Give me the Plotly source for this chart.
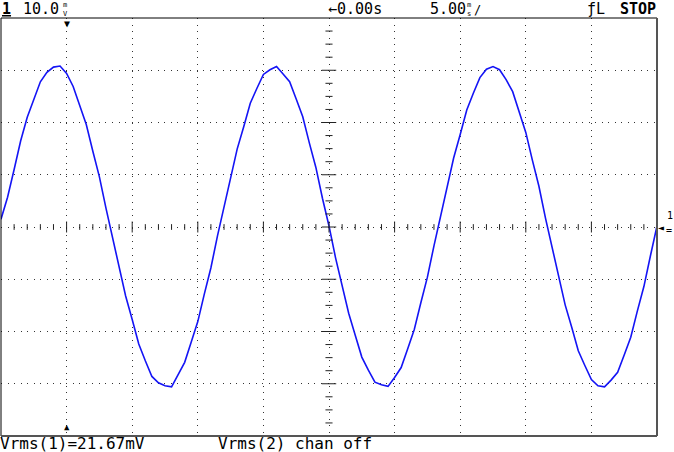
import plotly.graph_objects as go

t_ms = [-25.0, -24.5, -24.0, -23.5, -23.0, -22.5, -22.0, -21.5, -21.0, -20.5,
        -20.0, -19.5, -19.0, -18.5, -18.0, -17.5, -17.0, -16.5, -16.0, -15.5,
        -15.0, -14.5, -14.0, -13.5, -13.0, -12.5, -12.0, -11.5, -11.0, -10.5,
        -10.0, -9.5, -9.0, -8.5, -8.0, -7.5, -7.0, -6.5, -6.0, -5.5,
        -5.0, -4.5, -4.0, -3.5, -3.0, -2.5, -2.0, -1.5, -1.0, -0.5,
        0.0, 0.5, 1.0, 1.5, 2.0, 2.5, 3.0, 3.5, 4.0, 4.5,
        5.0, 5.5, 6.0, 6.5, 7.0, 7.5, 8.0, 8.5, 9.0, 9.5,
        10.0, 10.5, 11.0, 11.5, 12.0, 12.5, 13.0, 13.5, 14.0, 14.5,
        15.0, 15.5, 16.0, 16.5, 17.0, 17.5, 18.0, 18.5, 19.0, 19.5,
        20.0, 20.5, 21.0, 21.5, 22.0, 22.5, 23.0, 23.5, 24.0, 24.5, 25.0]
v_mv = [1.5, 5.7, 11.0, 16.5, 21.0, 24.5, 27.8, 29.6, 30.6, 30.8,
        29.4, 26.9, 23.3, 19.6, 14.5, 9.6, 3.6, -2.1, -7.4, -13.2,
        -17.7, -22.4, -25.6, -28.6, -29.8, -30.4, -30.6, -28.2, -25.9, -22.0,
        -18.1, -12.8, -7.8, -1.7, 3.9, 9.2, 14.9, 19.2, 23.7, 26.5,
        29.2, 30.1, 30.7, 29.3, 27.8, 24.5, 21.1, 16.1, 11.4, 5.5,
        0.2, -5.9, -11.0, -16.5, -20.7, -24.9, -27.4, -29.7, -30.2, -30.5,
        -28.8, -26.9, -23.3, -19.6, -14.5, -9.6, -3.6, 2.1, 7.4, 13.2,
        17.7, 22.4, 25.6, 28.6, 30.2, 30.7, 30.1, 28.2, 25.9, 22.0,
        18.1, 12.8, 7.8, 1.7, -3.9, -9.2, -14.9, -19.2, -23.7, -26.5,
        -29.2, -30.4, -30.6, -29.3, -27.8, -24.5, -21.1, -16.1, -11.4, -5.5, 0.2]

x_range = [-25, 25]     # 5 ms/div, 10 divisions
y_range = [-40, 40]     # 10 mV/div, 8 divisions
trig_pos_ms = -20

top_labels = ["10.0", "\u21900.00s", "5.00"]
bottom_labels = ["Vrms(1)=21.67mV", "Vrms(2) chan off"]

# ---------------- geometry ----------------
W, H = 674, 452
ML, MR, MT, MB = 1, 17, 18, 16
PW, PH = W - ML - MR, H - MT - MB


def px(x):
    return (x - ML) / PW


def py(y):
    return 1 - (y - MT) / PH


FONT = "DejaVu Sans Mono"

fig = go.Figure()
fig.add_trace(go.Scatter(x=t_ms, y=v_mv, mode="lines",
                         line=dict(color="#1414f5", width=1.6),
                         hoverinfo="skip", showlegend=False))

shapes = []
# center axis ticks
for i in range(-25, 26):
    if i in (-25, 25):
        continue
    major = (i % 5 == 0)
    h = 1.05 if major else 0.55
    shapes.append(dict(type="line", xref="x", yref="y", x0=i, x1=i, y0=-h, y1=h,
                       line=dict(color="#222", width=1)))
for j in range(-16, 17):
    if j in (-16, 16):
        continue
    v = j * 2.5
    major = (j % 4 == 0)
    w = 0.55 if major else 0.27
    shapes.append(dict(type="line", xref="x", yref="y", x0=-w, x1=w, y0=v, y1=v,
                       line=dict(color="#222", width=1)))
# frame
shapes.append(dict(type="rect", xref="paper", yref="paper", x0=0, x1=1, y0=0, y1=1,
                   line=dict(color="black", width=1)))
shapes.append(dict(type="line", xref="paper", yref="paper", x0=1, x1=1, y0=0, y1=1,
                   line=dict(color="#555", width=2)))
shapes.append(dict(type="line", xref="paper", yref="paper", x0=0, x1=1, y0=0, y1=0,
                   line=dict(color="#555", width=2)))

ann = []


def txt(text, x, y, size=16, xanchor="left", bold=False, color="black"):
    ann.append(dict(text=("<b>%s</b>" % text) if bold else text,
                    x=px(x), y=py(y), xref="paper", yref="paper",
                    xanchor=xanchor, yanchor="middle", showarrow=False,
                    borderpad=0,
                    font=dict(family=FONT, size=size, color=color)))


txt("<u>1</u>", 1, 9, size=15, bold=True)
txt(top_labels[0], 22, 9, size=15)
txt("m<br>V", 62, 9, size=7)
txt(top_labels[1], 327, 9, size=15)
txt(top_labels[2], 429, 9, size=15)
txt("m<br>s", 466, 9, size=7)
txt("/", 473, 10, size=12)
txt("\u0192L", 586, 9, size=15)
txt("STOP", 619, 9, size=15, bold=True)

txt(bottom_labels[0], -1, 443, size=16)
txt(bottom_labels[1], 217, 443, size=16)

# trigger markers
ann.append(dict(text="\u25bc", x=trig_pos_ms, y=py(23), xref="x", yref="paper",
                xanchor="center", yanchor="middle", showarrow=False, borderpad=0,
                font=dict(family=FONT, size=10, color="black")))
ann.append(dict(text="\u25b2", x=trig_pos_ms, y=py(427), xref="x", yref="paper",
                xanchor="center", yanchor="middle", showarrow=False, borderpad=0,
                font=dict(family=FONT, size=9, color="black")))
# channel 1 ground marker
txt("\u25c4", 657, 227, size=10)
txt("1", 666, 215, size=10)
txt("=", 665, 230, size=10)

fig.update_layout(
    width=W, height=H,
    margin=dict(l=ML, r=MR, t=MT, b=MB, pad=0),
    paper_bgcolor="white", plot_bgcolor="white",
    xaxis=dict(range=x_range, dtick=5, showticklabels=False, ticks="",
               showgrid=True, gridcolor="#333", gridwidth=1,
               griddash="1px,5.57px", zeroline=False, showline=False,
               fixedrange=True),
    yaxis=dict(range=y_range, dtick=10, showticklabels=False, ticks="",
               showgrid=True, gridcolor="#333", gridwidth=1,
               griddash="1px,5.53px", zeroline=False, showline=False,
               fixedrange=True),
    shapes=shapes, annotations=ann, showlegend=False,
)

fig.write_html("out.html", config={"displayModeBar": False},
               post_script="document.body.style.margin='0';document.body.style.overflow='hidden';")
